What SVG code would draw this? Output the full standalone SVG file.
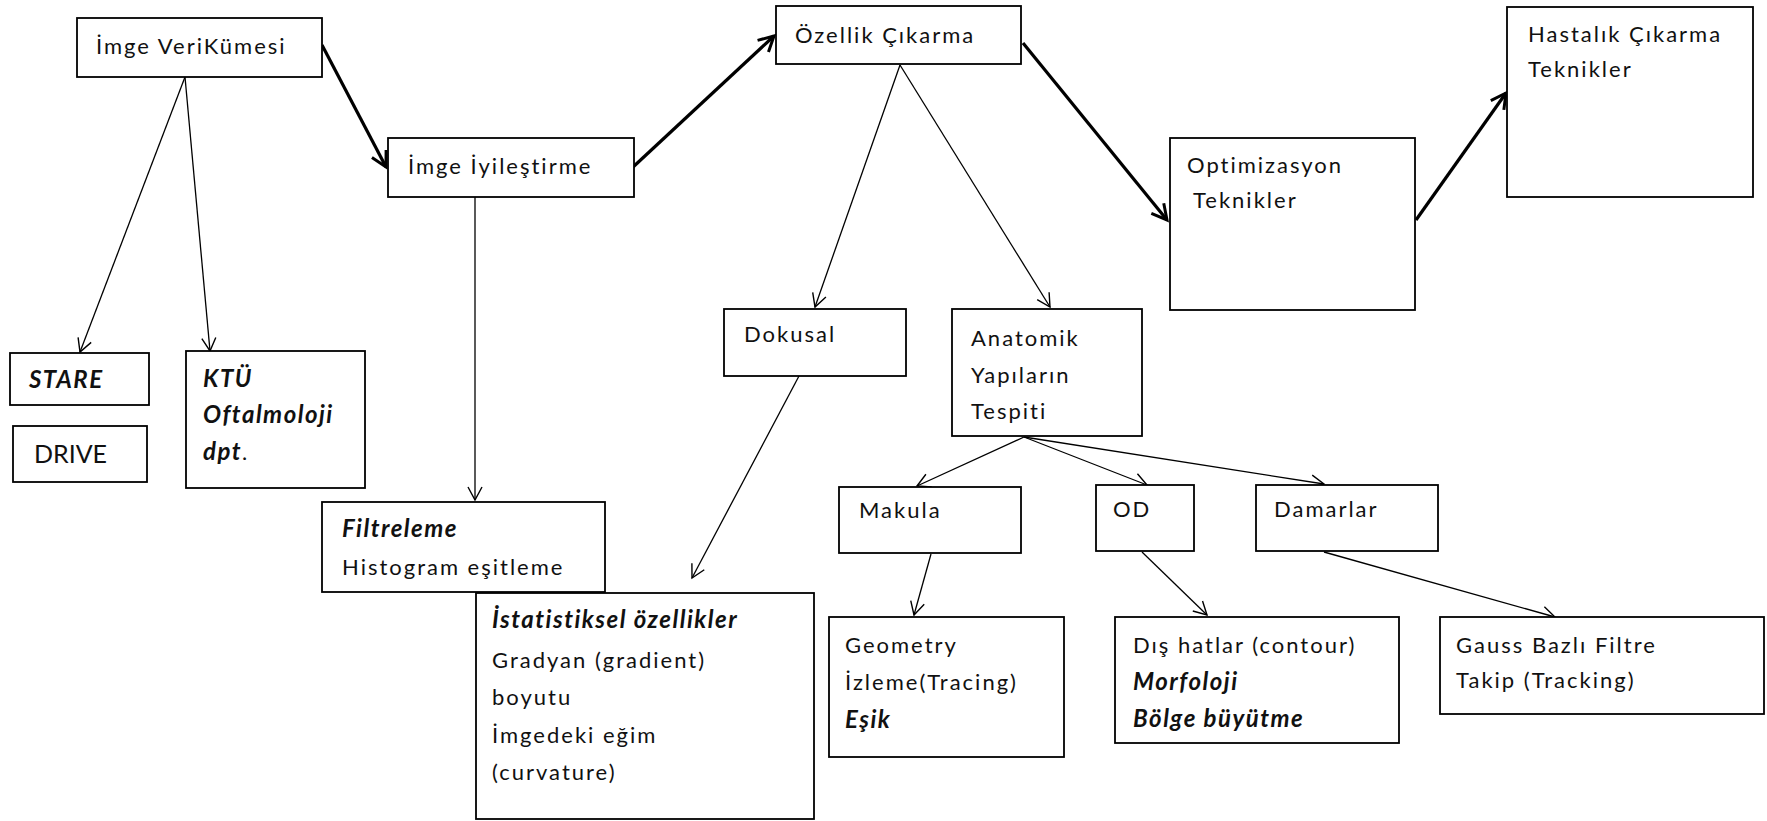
<svg xmlns="http://www.w3.org/2000/svg" width="1767" height="821" viewBox="0 0 1767 821">
<style>
.b{fill:#fff;stroke:#000;stroke-width:1.8}
.t{font-family:Lato,"Liberation Sans",sans-serif;font-size:22px;letter-spacing:2px;fill:#111}
.bi{font-weight:bold;font-style:italic;font-size:24px;letter-spacing:1.5px}
.c{fill:none;stroke:#000;stroke-width:1.3;marker-end:url(#ah)}
.k{fill:none;stroke:#000;stroke-width:3.2;marker-end:url(#ak)}
</style>
<defs>
<marker id="ah" viewBox="-15 -9 17 18" refX="0" refY="0" markerWidth="17" markerHeight="18" orient="auto" markerUnits="userSpaceOnUse"><path d="M-13,-7 L0,0 L-13,7" fill="none" stroke="#000" stroke-width="1.4"/></marker>
<marker id="ak" viewBox="-18 -11 21 22" refX="0" refY="0" markerWidth="21" markerHeight="22" orient="auto" markerUnits="userSpaceOnUse"><path d="M-15,-8 L0,0 L-15,8" fill="none" stroke="#000" stroke-width="3"/></marker>
</defs>
<rect width="1767" height="821" fill="#fff"/>
<g id="connectors">
<line class="k" x1="322" y1="45" x2="386" y2="167"/>
<line class="k" x1="632" y1="168" x2="774" y2="36"/>
<line class="k" x1="1023" y1="43" x2="1167" y2="220"/>
<line class="k" x1="1416" y1="220" x2="1506" y2="93"/>
<line class="c" x1="185" y1="77" x2="80" y2="352"/>
<line class="c" x1="185" y1="77" x2="210" y2="351"/>
<line class="c" x1="475" y1="197" x2="475" y2="500"/>
<line class="c" x1="900" y1="65" x2="815" y2="307"/>
<line class="c" x1="900" y1="65" x2="1050" y2="307"/>
<line class="c" x1="799" y1="376" x2="692" y2="578"/>
<line class="c" x1="1024" y1="437" x2="917" y2="486"/>
<line class="c" x1="1024" y1="437" x2="1147" y2="485"/>
<line class="c" x1="1024" y1="437" x2="1324" y2="484"/>
<line class="c" x1="931" y1="554" x2="914" y2="615"/>
<line class="c" x1="1142" y1="552" x2="1207" y2="615"/>
<line class="c" x1="1324" y1="552" x2="1555" y2="617"/>
</g>
<g id="imge-veri"><rect class="b" x="77" y="18" width="245" height="59"/><text class="t" x="96" y="54">İmge VeriKümesi</text></g>
<g id="iyilestirme"><rect class="b" x="388" y="138" width="246" height="59"/><text class="t" x="408" y="174">İmge İyileştirme</text></g>
<g id="ozellik"><rect class="b" x="776" y="6" width="245" height="58"/><text class="t" x="795" y="43">Özellik Çıkarma</text></g>
<g id="optimizasyon"><rect class="b" x="1170" y="138" width="245" height="172"/><text class="t" x="1187" y="173">Optimizasyon</text><text class="t" x="1193" y="208">Teknikler</text></g>
<g id="hastalik"><rect class="b" x="1507" y="7" width="246" height="190"/><text class="t" x="1528" y="42">Hastalık Çıkarma</text><text class="t" x="1528" y="77">Teknikler</text></g>
<g id="stare"><rect class="b" x="10" y="353" width="139" height="52"/><text class="t bi" x="29" y="388">STARE</text></g>
<g id="drive"><rect class="b" x="13" y="426" width="134" height="56"/><text class="t" x="34" y="463" style="font-size:25px;letter-spacing:0">DRIVE</text></g>
<g id="ktu"><rect class="b" x="186" y="351" width="179" height="137"/><text class="t bi" x="203" y="387">KTÜ</text><text class="t bi" x="203" y="423">Oftalmoloji</text><text class="t" x="203" y="460"><tspan class="bi">dpt</tspan>.</text></g>
<g id="filtreleme"><rect class="b" x="322" y="502" width="283" height="90"/><text class="t bi" x="342" y="537">Filtreleme</text><text class="t" x="342" y="575">Histogram eşitleme</text></g>
<g id="istatistiksel"><rect class="b" x="476" y="593" width="338" height="226"/><text class="t bi" x="492" y="628">İstatistiksel özellikler</text><text class="t" x="492" y="668">Gradyan (gradient)</text><text class="t" x="492" y="705">boyutu</text><text class="t" x="492" y="743">İmgedeki eğim</text><text class="t" x="492" y="780">(curvature)</text></g>
<g id="dokusal"><rect class="b" x="724" y="309" width="182" height="67"/><text class="t" x="744" y="342">Dokusal</text></g>
<g id="anatomik"><rect class="b" x="952" y="309" width="190" height="127"/><text class="t" x="971" y="346">Anatomik</text><text class="t" x="971" y="383">Yapıların</text><text class="t" x="971" y="419">Tespiti</text></g>
<g id="makula"><rect class="b" x="839" y="487" width="182" height="66"/><text class="t" x="859" y="518">Makula</text></g>
<g id="od"><rect class="b" x="1096" y="485" width="98" height="66"/><text class="t" x="1113" y="517">OD</text></g>
<g id="damarlar"><rect class="b" x="1256" y="485" width="182" height="66"/><text class="t" x="1274" y="517">Damarlar</text></g>
<g id="geometry"><rect class="b" x="829" y="617" width="235" height="140"/><text class="t" x="845" y="653">Geometry</text><text class="t" x="845" y="690">İzleme(Tracing)</text><text class="t bi" x="845" y="728">Eşik</text></g>
<g id="dis-hatlar"><rect class="b" x="1115" y="617" width="284" height="126"/><text class="t" x="1133" y="653">Dış hatlar (contour)</text><text class="t bi" x="1133" y="690">Morfoloji</text><text class="t bi" x="1133" y="727">Bölge büyütme</text></g>
<g id="gauss"><rect class="b" x="1440" y="617" width="324" height="97"/><text class="t" x="1456" y="653">Gauss Bazlı Filtre</text><text class="t" x="1456" y="688">Takip (Tracking)</text></g>
</svg>
